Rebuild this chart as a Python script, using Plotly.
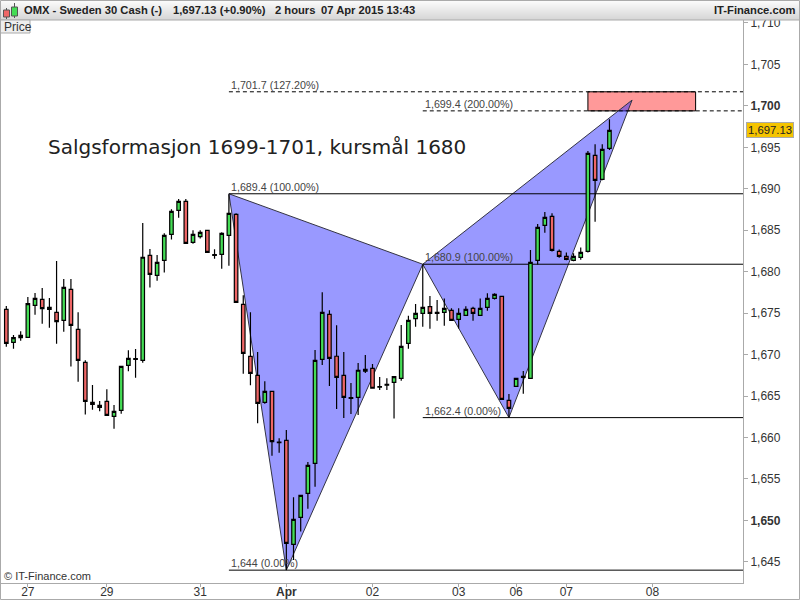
import plotly.graph_objects as go

# candles
opens = [1675.46, 1671.48, 1672.33, 1672.08, 1675.94, 1676.67, 1675.70, 1675.10, 1674.14, 1677.87,
         1673.05, 1669.07, 1664.24, 1663.88, 1664.36, 1662.56, 1663.28, 1668.71, 1669.43, 1669.31,
         1681.98, 1679.56, 1681.37, 1684.51, 1687.40, 1688.49, 1683.54, 1684.23, 1684.99, 1681.98,
         1682.10, 1684.39, 1686.92, 1676.07, 1669.79, 1667.50, 1664.24, 1665.57, 1659.38, 1659.66,
         1647.12, 1650.37, 1653.27, 1656.89, 1669.43, 1674.86, 1669.80, 1667.50, 1664.73, 1664.85,
         1667.99, 1668.35, 1666.06, 1666.30, 1666.66, 1667.14, 1671.35, 1674.33, 1674.97, 1675.78,
         1674.97, 1675.09, 1675.34, 1674.25, 1674.73, 1675.58, 1674.73, 1675.70, 1676.78, 1677.02,
         1664.48, 1666.17, 1667.25, 1667.13, 1681.37, 1685.59, 1686.67, 1682.45, 1681.85, 1681.37,
         1681.73, 1682.45, 1694.03, 1691.14, 1694.88]
highs = [1675.86, 1672.37, 1672.81, 1676.95, 1677.43, 1678.04, 1676.83, 1681.29, 1679.12, 1679.12,
         1675.10, 1669.31, 1666.33, 1664.40, 1665.81, 1663.92, 1668.67, 1670.52, 1670.68, 1685.88,
         1682.74, 1682.02, 1684.63, 1687.53, 1688.77, 1688.77, 1684.99, 1684.99, 1684.99, 1682.70,
         1684.75, 1689.33, 1687.04, 1677.15, 1675.10, 1670.32, 1666.78, 1665.57, 1659.90, 1660.91,
         1652.79, 1653.03, 1657.05, 1670.56, 1677.52, 1675.34, 1673.54, 1670.32, 1666.58, 1668.99,
         1669.96, 1668.87, 1667.30, 1667.14, 1667.34, 1673.58, 1674.69, 1676.10, 1680.88, 1677.06,
         1676.58, 1676.78, 1675.58, 1675.58, 1675.82, 1675.78, 1676.78, 1677.39, 1677.39, 1677.02,
         1665.24, 1667.13, 1668.02, 1682.61, 1685.75, 1687.20, 1687.04, 1682.69, 1682.33, 1682.21,
         1682.93, 1694.56, 1695.36, 1695.36, 1698.38]
lows = [1670.96, 1670.72, 1671.68, 1672.08, 1674.82, 1673.73, 1673.25, 1671.32, 1672.77, 1668.55,
        1666.74, 1662.76, 1663.36, 1663.16, 1662.68, 1661.07, 1662.88, 1667.98, 1667.22, 1669.03,
        1678.08, 1678.92, 1679.89, 1683.87, 1686.52, 1683.42, 1683.38, 1683.99, 1682.34, 1681.57,
        1680.37, 1680.73, 1676.31, 1667.70, 1666.29, 1661.71, 1664.08, 1657.81, 1658.17, 1644.02,
        1645.23, 1648.65, 1651.42, 1654.07, 1668.75, 1666.22, 1663.44, 1662.36, 1662.84, 1662.72,
        1667.79, 1665.94, 1665.73, 1665.73, 1662.28, 1666.86, 1670.71, 1673.36, 1673.36, 1673.12,
        1674.09, 1673.49, 1674.13, 1673.16, 1674.73, 1674.09, 1674.73, 1675.30, 1676.66, 1664.60,
        1662.43, 1666.17, 1665.28, 1667.13, 1680.88, 1684.70, 1682.45, 1681.69, 1681.37, 1681.25,
        1681.45, 1682.33, 1686.03, 1691.02, 1694.68]
closes = [1671.36, 1672.04, 1672.04, 1676.15, 1676.79, 1675.54, 1675.46, 1673.97, 1678.12, 1673.53,
          1669.31, 1664.36, 1664.00, 1663.64, 1662.68, 1663.16, 1668.59, 1669.55, 1669.51, 1681.74,
          1679.68, 1681.13, 1684.39, 1687.28, 1688.49, 1683.42, 1684.51, 1684.75, 1682.34, 1682.06,
          1684.63, 1687.04, 1676.31, 1670.15, 1667.74, 1664.12, 1665.57, 1659.50, 1659.46, 1647.24,
          1650.13, 1653.03, 1656.65, 1669.31, 1675.10, 1669.55, 1667.26, 1664.85, 1664.81, 1668.11,
          1668.23, 1665.94, 1666.14, 1666.42, 1667.34, 1671.00, 1674.13, 1674.97, 1675.70, 1674.97,
          1675.09, 1675.58, 1674.13, 1674.97, 1675.46, 1674.97, 1675.58, 1676.78, 1677.27, 1664.60,
          1663.51, 1667.13, 1667.37, 1681.12, 1685.35, 1686.55, 1682.57, 1681.85, 1681.49, 1681.85,
          1682.33, 1694.27, 1691.02, 1694.76, 1697.05]

# the two triangles of the pattern (bar index, price)
tri1_x = [31, 39, 58, 31]
tri1_y = [1689.4, 1644.0, 1680.9, 1689.4]
tri2_x = [58, 70, 87.15, 58]
tri2_y = [1680.9, 1662.4, 1700.7, 1680.9]

# fibonacci levels
level_prices = [1689.4, 1680.9, 1662.4, 1644.0, 1701.7, 1699.4]
level_starts = [31, 58, 58, 31, 31, 58]
level_labels = ["1,689.4 (100.00%)", "1,680.9 (100.00%)", "1,662.4 (0.00%)", "1,644 (0.00%)",
                "1,701.7 (127.20%)", "1,699.4 (200.00%)"]
level_dash = ["solid", "solid", "solid", "solid", "4px,3px", "4px,3px"]

zone_x = [81, 96]
zone_y = [1699.4, 1701.7]

y_ticks = [1710, 1705, 1700, 1695, 1690, 1685, 1680, 1675, 1670, 1665, 1660, 1655, 1650, 1645]
y_labels = ["1,710", "1,705", "<b>1,700</b>", "1,695", "1,690", "1,685", "1,680", "1,675", "1,670",
            "1,665", "1,660", "1,655", "<b>1,650</b>", "1,645"]
x_ticks = [3, 14, 27, 39, 51, 63, 71, 78, 90]
x_labels = ["27", "29", "31", "<b>Apr</b>", "02", "03", "06", "07", "08"]

last_price = 1697.13

W, H = 800, 600
ML, MR, MT, MB = 1, 57, 20, 17
X_RANGE = [-0.74, 102.6]
Y_RANGE = [1642.45, 1710.36]
FONT = "Liberation Sans"


def px(v):
    return (v - ML) / (W - ML - MR)


def py(v):
    return 1 - (v - MT) / (H - MT - MB)


fig = go.Figure()

for xs, ys in [(tri1_x, tri1_y), (tri2_x, tri2_y)]:
    fig.add_trace(go.Scatter(x=xs, y=ys, mode="lines", fill="toself",
                             fillcolor="rgba(51,51,255,0.5)",
                             line=dict(color="#333344", width=1), hoverinfo="skip"))

for price, start, dash in zip(level_prices, level_starts, level_dash):
    fig.add_trace(go.Scatter(x=[start, X_RANGE[1]], y=[price, price], mode="lines",
                             line=dict(color="black", width=1, dash=dash), hoverinfo="skip"))

# candles go on overlay axes, otherwise plotly paints the filled triangles over them
fig.add_trace(go.Candlestick(x=list(range(len(opens))), open=opens, high=highs, low=lows, close=closes,
                             xaxis="x2", yaxis="y2", whiskerwidth=0,
                             increasing=dict(fillcolor="#44DD55", line=dict(color="black", width=1.2)),
                             decreasing=dict(fillcolor="#EE6666", line=dict(color="black", width=1.2))))

shapes = [dict(type="rect", xref="x", yref="y", x0=zone_x[0], x1=zone_x[1], y0=zone_y[0], y1=zone_y[1],
               fillcolor="#FF9999", line=dict(color="black", width=1), layer="below")]

# header bar, stepped gradient
for i in range(20):
    g = 252 - i * 2
    shapes.append(dict(type="rect", xref="paper", yref="paper", x0=px(0), x1=px(W), y0=py(i), y1=py(i + 1),
                       fillcolor=f"rgb({g},{g},{g})", line=dict(width=0)))
shapes.append(dict(type="line", xref="paper", yref="paper", x0=px(0), x1=px(W), y0=py(20), y1=py(20),
                   line=dict(color="#AAAAAA", width=1)))
# little candle icon
shapes.append(dict(type="line", xref="paper", yref="paper", x0=px(6.5), x1=px(6.5), y0=py(8), y1=py(19),
                   line=dict(color="#555555", width=1)))
shapes.append(dict(type="rect", xref="paper", yref="paper", x0=px(3.5), x1=px(9.5), y0=py(10), y1=py(17),
                   fillcolor="#EE6666", line=dict(color="#555555", width=1)))
shapes.append(dict(type="line", xref="paper", yref="paper", x0=px(14.5), x1=px(14.5), y0=py(3), y1=py(18),
                   line=dict(color="#555555", width=1)))
shapes.append(dict(type="rect", xref="paper", yref="paper", x0=px(11.5), x1=px(17.5), y0=py(7), y1=py(16),
                   fillcolor="#44DD55", line=dict(color="#555555", width=1)))
# price tab
shapes.append(dict(type="rect", xref="paper", yref="paper", x0=px(0), x1=px(30), y0=py(20), y1=py(33),
                   fillcolor="#EEEEEE", line=dict(color="#AAAAAA", width=1)))
# outer frame
shapes.append(dict(type="rect", xref="paper", yref="paper", x0=px(0.5), x1=px(W - 0.5), y0=py(0.5), y1=py(H - 0.5),
                   line=dict(color="#AAAAAA", width=1)))

annotations = []


def label(text, x, y, size=12, color="#222222", anchor="left", family=FONT):
    annotations.append(dict(text=text, xref="paper", yref="paper", x=px(x), y=py(y), xanchor=anchor,
                            yanchor="middle", showarrow=False, font=dict(family=family, size=size, color=color)))


label("<b>OMX - Sweden 30 Cash (-)</b>", 22, 10, size=11.2)
label("<b>1,697.13 (+0.90%)</b>", 171, 10, size=11.2)
label("<b>2 hours</b>", 273, 10, size=11.2)
label("<b>07 Apr 2015 13:43</b>", 319, 10, size=11.2)
label("<b>IT-Finance.com</b>", 797, 10, size=11.2, anchor="right")
label("Price", 2, 27, size=12, color="#333333")
label("© IT-Finance.com", 2, 576, size=11, color="#333333")
label("Salgsformasjon 1699-1701, kursmål 1680", 46, 147, size=20, color="#222222", family="DejaVu Sans")

for price, start, text in zip(level_prices, level_starts, level_labels):
    annotations.append(dict(text=text, xref="x", yref="y", x=start, y=price, xanchor="left", yanchor="bottom",
                            xshift=1, yshift=0, showarrow=False, borderpad=0,
                            font=dict(family=FONT, size=10.7, color="#444444")))

annotations.append(dict(text=f"{last_price:,.2f}", xref="paper", yref="y", x=px(770), y=last_price,
                        xanchor="center", yanchor="middle", showarrow=False, bgcolor="#F5C400",
                        bordercolor="#AAAAAA", borderwidth=1, borderpad=1,
                        font=dict(family=FONT, size=11.3, color="#222222")))

fig.update_layout(width=W, height=H, margin=dict(l=ML, r=MR, t=MT, b=MB, autoexpand=False), showlegend=False,
                  paper_bgcolor="white", plot_bgcolor="white", shapes=shapes, annotations=annotations,
                  font=dict(family=FONT, size=12, color="#333333"),
                  xaxis2=dict(overlaying="x", range=X_RANGE, visible=False, rangeslider=dict(visible=False)),
                  yaxis2=dict(overlaying="y", range=Y_RANGE, visible=False))
fig.update_layout(xaxis=dict(range=X_RANGE, rangeslider=dict(visible=False), tickmode="array", tickvals=x_ticks,
                             ticktext=x_labels, ticks="outside", ticklen=3, tickcolor="#AAAAAA", showgrid=False,
                             zeroline=False, showline=True, linecolor="#AAAAAA", linewidth=1,
                             ticklabelstandoff=-5, tickfont=dict(size=12)),
                  yaxis=dict(range=Y_RANGE, side="right", tickmode="array", tickvals=y_ticks, ticktext=y_labels,
                             ticks="outside", ticklen=4, tickcolor="#AAAAAA", showgrid=False, zeroline=False,
                             showline=True, linecolor="#AAAAAA", linewidth=1, tickfont=dict(size=12)))

fig.write_html("out.html", config=dict(displayModeBar=False), post_script="document.body.style.margin='0';")
